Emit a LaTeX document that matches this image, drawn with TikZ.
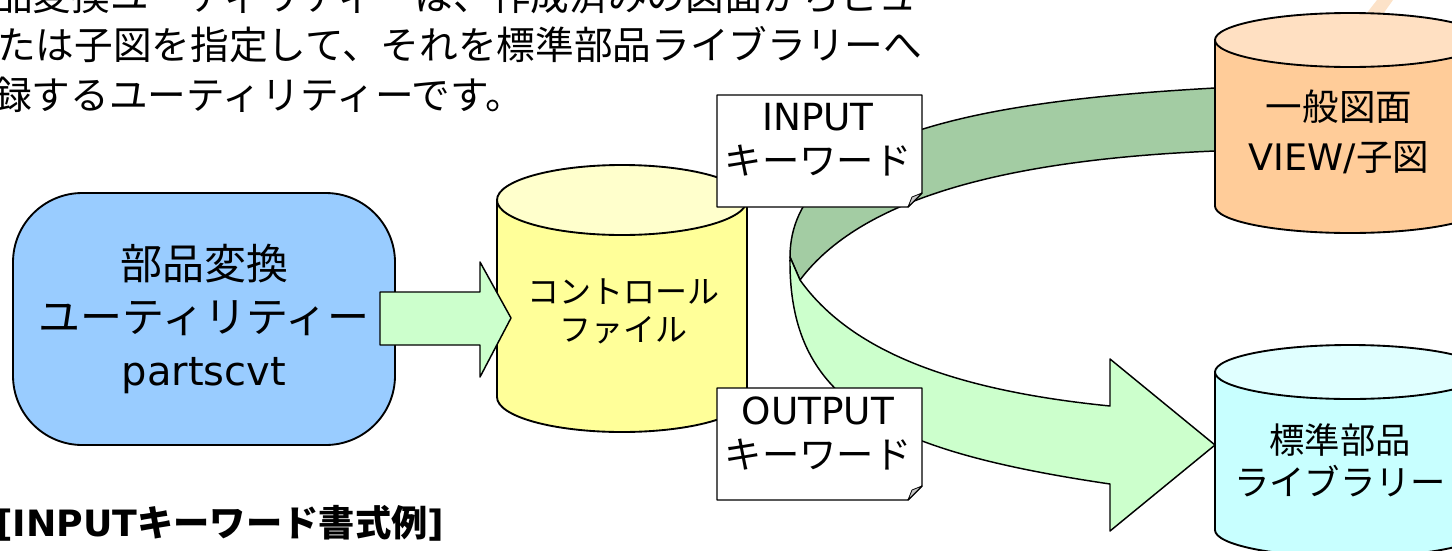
\documentclass[tikz,border=0pt]{standalone}
\usepackage{fontspec}
\setmainfont{DejaVu Sans}
\newfontfamily\jp{Noto Sans CJK JP}
\definecolor{bluebox}{HTML}{99CCFF}
\definecolor{lightgreen}{HTML}{CCFFCC}
\definecolor{darkgreen}{HTML}{A3CCA3}
\definecolor{ybody}{HTML}{FFFF99}
\definecolor{ytop}{HTML}{FFFFCC}
\definecolor{obody}{HTML}{FFCC99}
\definecolor{otop}{HTML}{FFE0C2}
\definecolor{cbody}{HTML}{C8FFFF}
\definecolor{ctop}{HTML}{E0FFFF}
\definecolor{foldgray}{HTML}{C8C8C8}
\definecolor{peachfrag}{HTML}{FCE2C8}
\begin{document}
\begin{tikzpicture}[x=0.75pt,y=-0.75pt,line join=round,
  outl/.style={draw=black,line width=1.4pt},
  noteoutl/.style={draw=black,line width=1.1pt,fill=white},
  foldtri/.style={draw=black,line width=0.6pt,fill=foldgray},
  jptext/.style={inner sep=0pt,align=center},
  paraline/.style={anchor=base west,inner sep=0pt,font=\jp\fontsize{29}{29}\selectfont}]
\useasboundingbox (0,0) rectangle (1452,550);

% fragment at top right
\fill[peachfrag] (1366,14) -- (1377,0) -- (1393,0) -- (1383,14) -- cycle;

% paragraph
\node[paraline] (p1) at (-6,10) {品変換ユーティリティーは、作成済みの図面からビュー};
\node[paraline] (p2) at (-3,59) {たは子図を指定して、それを標準部品ライブラリーへ};
\node[paraline] (p3) at (-7,109) {録するユーティリティーです。};

% ring arrow: back part
\filldraw[outl,line width=1.1pt,fill=darkgreen] (1215,88) .. controls (1000,100) and (790,130) .. (790,257)
  -- (800,280) .. controls (860,200) and (1000,160) .. (1215,151) -- cycle;
% ring arrow: front part
\filldraw[outl,line width=1.1pt,fill=lightgreen] (790,257) .. controls (788,400) and (880,450) .. (1110,484)
  -- (1110,531) -- (1215,445) -- (1110,359) -- (1110,406)
  .. controls (950,390) and (850,350) .. (800,280) -- cycle;

% control file cylinder
\filldraw[outl,fill=ybody] (497,200) -- (497,397) arc[start angle=180,end angle=0,x radius=125,y radius=35] -- (747,200) -- cycle;
\filldraw[outl,fill=ytop] (622,200) ellipse[x radius=125,y radius=35];
\node[jptext,font=\jp\fontsize{24}{28.5}\selectfont] (ctl) at (623,311) {コントロール\\ファイル};

% general drawing cylinder
\filldraw[outl,fill=obody] (1215,40) -- (1215,206) arc[start angle=180,end angle=0,x radius=135,y radius=27] -- (1485,40) -- cycle;
\filldraw[outl,fill=otop] (1350,40) ellipse[x radius=135,y radius=27];
\node[jptext,font=\fontsize{27.4}{38}\selectfont] (gen) at (1339,132) {{\jp 一般図面}\\VIEW/{\jp 子図}};

% library cylinder
\filldraw[outl,fill=cbody] (1215,372) -- (1215,530) arc[start angle=180,end angle=0,x radius=135,y radius=27] -- (1485,372) -- cycle;
\filldraw[outl,fill=ctop] (1350,372) ellipse[x radius=135,y radius=27];
\node[jptext,font=\jp\fontsize{26.5}{31.5}\selectfont] (lib) at (1340,460) {標準部品\\ライブラリー};

% utility box
\node[outl,fill=bluebox,rounded corners=52pt,minimum width=286.5pt,minimum height=189pt,inner sep=0pt,align=center,
  font=\fontsize{31.5}{40}\selectfont] (util) at (204,319) {{\jp 部品変換}\\{\jp ユーティリティー}\\{\fontsize{30}{40}\selectfont partscvt}};

% block arrow utility -> control file
\filldraw[outl,line width=1.1pt,fill=lightgreen] (380,292) -- (480,292) -- (480,262) -- (511,318) -- (480,377) -- (480,345) -- (380,345) -- cycle;

% INPUT note
\filldraw[noteoutl] (717,95) -- (922,95) -- (922,193) -- (908,207) -- (717,207) -- cycle;
\filldraw[foldtri] (922,193) -- (908,207) -- (912,197) -- cycle;
\node[jptext,font=\fontsize{28}{33}\selectfont] (inkw) at (818,140) {INPUT\\{\jp キーワード}};

% OUTPUT note
\filldraw[noteoutl] (717,388) -- (922,388) -- (922,486) -- (908,500) -- (717,500) -- cycle;
\filldraw[foldtri] (922,486) -- (908,500) -- (912,490) -- cycle;
\node[jptext,font=\fontsize{28}{33}\selectfont] (outkw) at (818,433) {OUTPUT\\{\jp キーワード}};

% format heading
\node[anchor=base west,inner sep=0pt,font=\bfseries\fontsize{27.2}{27.2}\selectfont] (fmt) at (-4,536) {[INPUT{\jp キーワード書式例}]};
\end{tikzpicture}
\end{document}
